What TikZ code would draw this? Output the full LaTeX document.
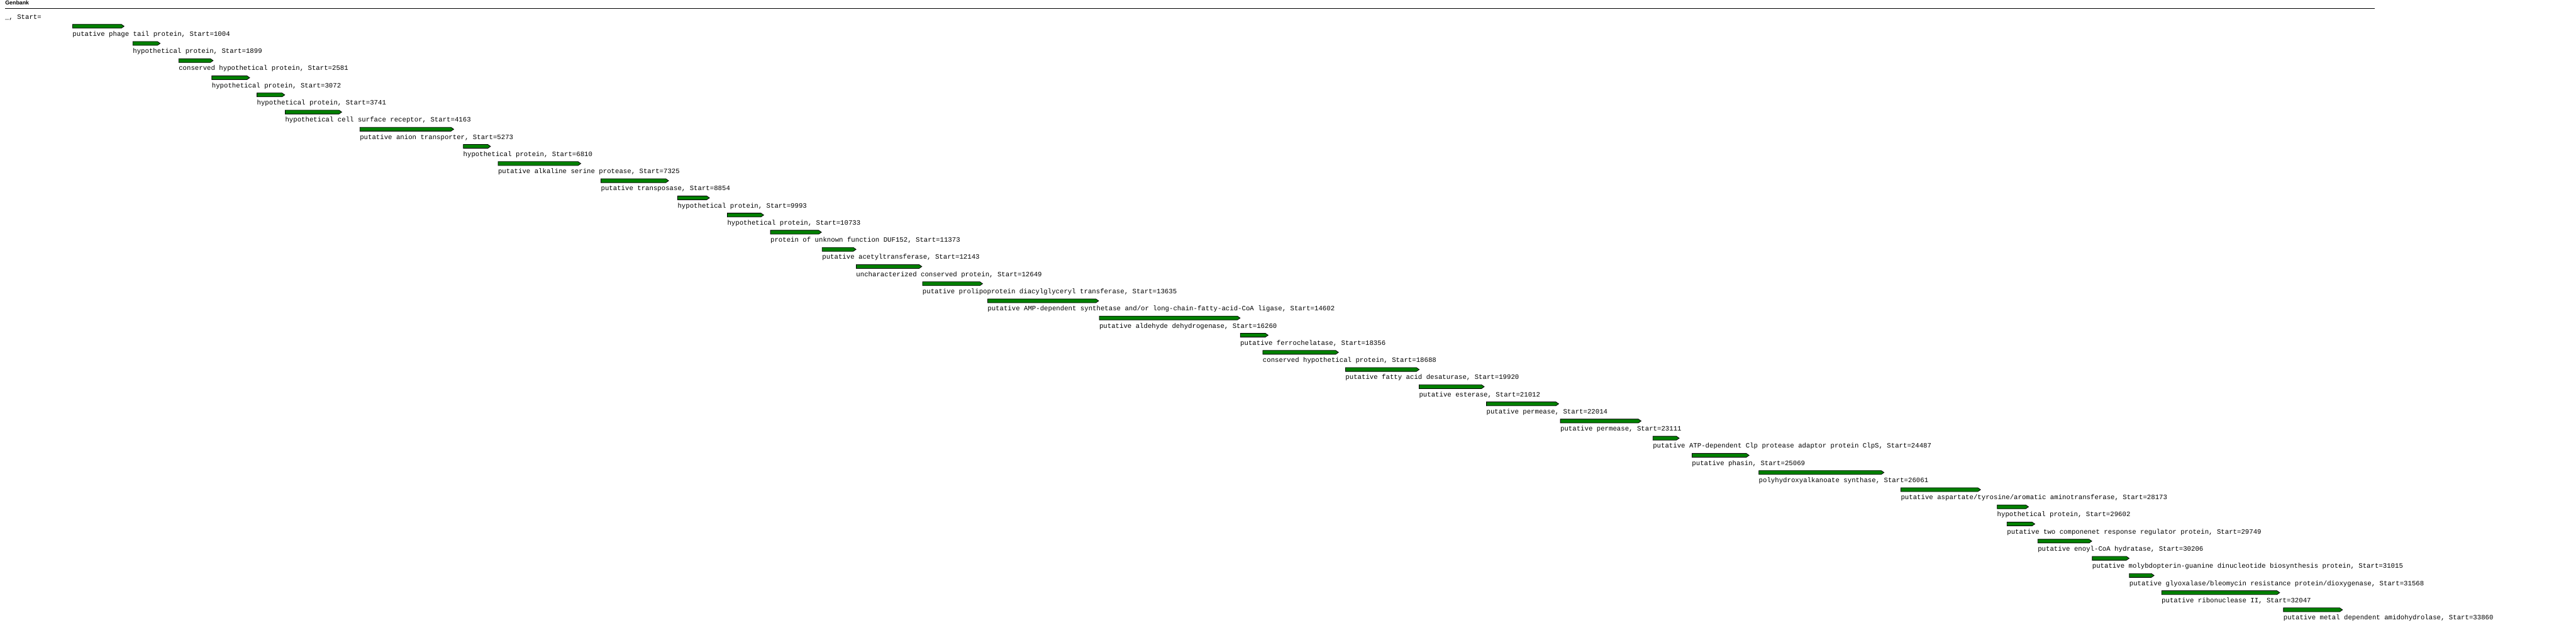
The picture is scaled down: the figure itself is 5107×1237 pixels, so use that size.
\documentclass[tikz,border=0pt]{standalone}
\usepackage{fontspec}
\setmainfont{Liberation Sans}
\setmonofont{Liberation Mono}
\usetikzlibrary{positioning, shapes.symbols}
\definecolor{genegreen}{RGB}{0,128,0}

\begin{document}
\begin{tikzpicture}[x=0.5pt, y=-0.5pt,
    gene/.style = {draw, fill=genegreen, line width=0.5pt, signal, signal to=east, signal pointer angle=70,
                   minimum height=3.8pt, inner sep=0pt, outer sep=0pt, anchor=west},
    lbl/.style = {font=\ttfamily\fontsize{6.667pt}{8pt}\selectfont, inner sep=0pt, outer sep=0pt,
                  text height=4.4pt, text depth=1.3pt}]
    \fill[white] (0,0) rectangle (5107,1237);
    \useasboundingbox (0,0) rectangle (5107,1237);

    % header
    \node[anchor=base west, inner sep=0pt, font=\bfseries\fontsize{5.5pt}{6pt}\selectfont] (title) at (10,9.3) {Genbank};
    \draw[line width=0.6pt] (10,17.3) -- (304,17.3);
    \draw[line width=0.6pt] (304,16.7) -- (4413,16.7);
    \draw[line width=0.6pt] (4413,17.3) -- (4708,17.3);

    % empty feature at 0
    \coordinate (g0) at (10,22);
    \node[lbl] [below right=3.5pt and 0pt of g0] {\_, Start=};

    \node[gene, minimum width=51pt] (g1004) at (144,52) {};
    \node[lbl] [below right=3.5pt and 0pt of g1004.south west] {putative phage tail protein, Start=1004};
    \node[gene, minimum width=27pt] (g1899) at (263.5,86) {};
    \node[lbl] [below right=3.5pt and 0pt of g1899.south west] {hypothetical protein, Start=1899};
    \node[gene, minimum width=34pt] (g2581) at (354.5,120) {};
    \node[lbl] [below right=3.5pt and 0pt of g2581.south west] {conserved hypothetical protein, Start=2581};
    \node[gene, minimum width=37.5pt] (g3072) at (420,154) {};
    \node[lbl] [below right=3.5pt and 0pt of g3072.south west] {hypothetical protein, Start=3072};
    \node[gene, minimum width=27.5pt] (g3741) at (509.5,188) {};
    \node[lbl] [below right=3.5pt and 0pt of g3741.south west] {hypothetical protein, Start=3741};
    \node[gene, minimum width=56pt] (g4163) at (565.5,222) {};
    \node[lbl] [below right=3.5pt and 0pt of g4163.south west] {hypothetical cell surface receptor, Start=4163};
    \node[gene, minimum width=93pt] (g5273) at (713.5,256) {};
    \node[lbl] [below right=3.5pt and 0pt of g5273.south west] {putative anion transporter, Start=5273};
    \node[gene, minimum width=27pt] (g6810) at (918.5,290) {};
    \node[lbl] [below right=3.5pt and 0pt of g6810.south west] {hypothetical protein, Start=6810};
    \node[gene, minimum width=82pt] (g7325) at (987.5,324) {};
    \node[lbl] [below right=3.5pt and 0pt of g7325.south west] {putative alkaline serine protease, Start=7325};
    \node[gene, minimum width=67pt] (g8854) at (1191.5,358) {};
    \node[lbl] [below right=3.5pt and 0pt of g8854.south west] {putative transposase, Start=8854};
    \node[gene, minimum width=31.5pt] (g9993) at (1343.5,392) {};
    \node[lbl] [below right=3.5pt and 0pt of g9993.south west] {hypothetical protein, Start=9993};
    \node[gene, minimum width=36pt] (g10733) at (1442,426) {};
    \node[lbl] [below right=3.5pt and 0pt of g10733.south west] {hypothetical protein, Start=10733};
    \node[gene, minimum width=50.5pt] (g11373) at (1527.5,460) {};
    \node[lbl] [below right=3.5pt and 0pt of g11373.south west] {protein of unknown function DUF152, Start=11373};
    \node[gene, minimum width=33.5pt] (g12143) at (1630,494) {};
    \node[lbl] [below right=3.5pt and 0pt of g12143.south west] {putative acetyltransferase, Start=12143};
    \node[gene, minimum width=65pt] (g12649) at (1697.5,528) {};
    \node[lbl] [below right=3.5pt and 0pt of g12649.south west] {uncharacterized conserved protein, Start=12649};
    \node[gene, minimum width=59.5pt] (g13635) at (1829,562) {};
    \node[lbl] [below right=3.5pt and 0pt of g13635.south west] {putative prolipoprotein diacylglyceryl transferase, Start=13635};
    \node[gene, minimum width=110pt] (g14602) at (1958,596) {};
    \node[lbl] [below right=3.5pt and 0pt of g14602.south west] {putative AMP-dependent synthetase and/or long-chain-fatty-acid-CoA ligase, Start=14602};
    \node[gene, minimum width=139.5pt] (g16260) at (2179.5,630) {};
    \node[lbl] [below right=3.5pt and 0pt of g16260.south west] {putative aldehyde dehydrogenase, Start=16260};
    \node[gene, minimum width=27.5pt] (g18356) at (2459,664) {};
    \node[lbl] [below right=3.5pt and 0pt of g18356.south west] {putative ferrochelatase, Start=18356};
    \node[gene, minimum width=75pt] (g18688) at (2503.5,698) {};
    \node[lbl] [below right=3.5pt and 0pt of g18688.south west] {conserved hypothetical protein, Start=18688};
    \node[gene, minimum width=73pt] (g19920) at (2667.5,732) {};
    \node[lbl] [below right=3.5pt and 0pt of g19920.south west] {putative fatty acid desaturase, Start=19920};
    \node[gene, minimum width=64.5pt] (g21012) at (2813.5,766) {};
    \node[lbl] [below right=3.5pt and 0pt of g21012.south west] {putative esterase, Start=21012};
    \node[gene, minimum width=71.5pt] (g22014) at (2947,800) {};
    \node[lbl] [below right=3.5pt and 0pt of g22014.south west] {putative permease, Start=22014};
    \node[gene, minimum width=80pt] (g23111) at (3093.5,834) {};
    \node[lbl] [below right=3.5pt and 0pt of g23111.south west] {putative permease, Start=23111};
    \node[gene, minimum width=26pt] (g24487) at (3277,868) {};
    \node[lbl] [below right=3.5pt and 0pt of g24487.south west] {putative ATP-dependent Clp protease adaptor protein ClpS, Start=24487};
    \node[gene, minimum width=56.5pt] (g25069) at (3354.5,902) {};
    \node[lbl] [below right=3.5pt and 0pt of g25069.south west] {putative phasin, Start=25069};
    \node[gene, minimum width=124pt] (g26061) at (3487,936) {};
    \node[lbl] [below right=3.5pt and 0pt of g26061.south west] {polyhydroxyalkanoate synthase, Start=26061};
    \node[gene, minimum width=79pt] (g28173) at (3768.5,970) {};
    \node[lbl] [below right=3.5pt and 0pt of g28173.south west] {putative aspartate/tyrosine/aromatic aminotransferase, Start=28173};
    \node[gene, minimum width=31pt] (g29602) at (3959.5,1004) {};
    \node[lbl] [below right=3.5pt and 0pt of g29602.south west] {hypothetical protein, Start=29602};
    \node[gene, minimum width=27.5pt] (g29749) at (3979,1038) {};
    \node[lbl] [below right=3.5pt and 0pt of g29749.south west] {putative two componenet response regulator protein, Start=29749};
    \node[gene, minimum width=53.5pt] (g30206) at (4040,1072) {};
    \node[lbl] [below right=3.5pt and 0pt of g30206.south west] {putative enoyl-CoA hydratase, Start=30206};
    \node[gene, minimum width=36.5pt] (g31015) at (4148,1106) {};
    \node[lbl] [below right=3.5pt and 0pt of g31015.south west] {putative molybdopterin-guanine dinucleotide biosynthesis protein, Start=31015};
    \node[gene, minimum width=24.5pt] (g31568) at (4221.5,1140) {};
    \node[lbl] [below right=3.5pt and 0pt of g31568.south west] {putative glyoxalase/bleomycin resistance protein/dioxygenase, Start=31568};
    \node[gene, minimum width=117pt] (g32047) at (4285.5,1174) {};
    \node[lbl] [below right=3.5pt and 0pt of g32047.south west] {putative ribonuclease II, Start=32047};
    \node[gene, minimum width=58.5pt] (g33860) at (4527,1208) {};
    \node[lbl] [below right=3.5pt and 0pt of g33860.south west] {putative metal dependent amidohydrolase, Start=33860};
\end{tikzpicture}
\end{document}
